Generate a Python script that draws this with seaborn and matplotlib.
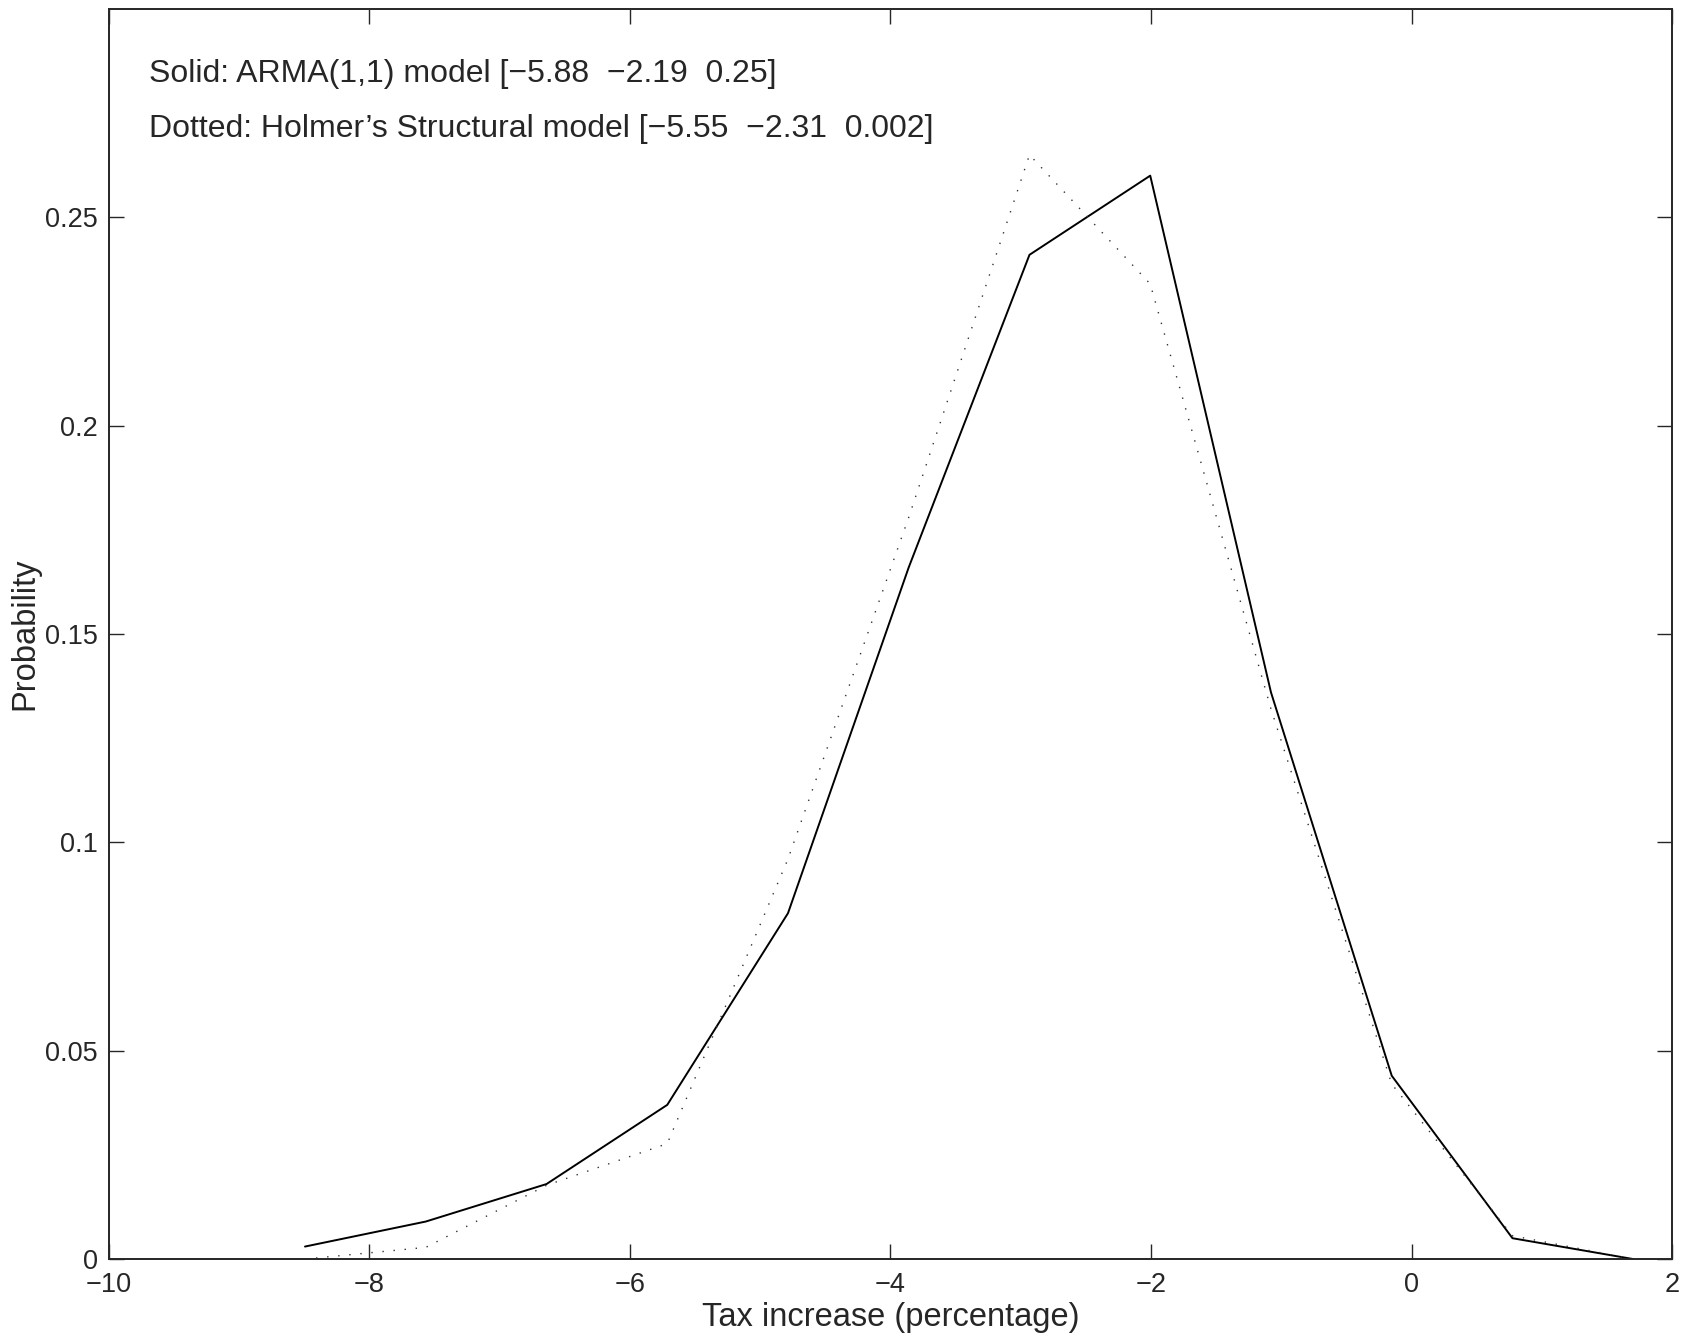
import numpy as np
import pandas as pd
import matplotlib
matplotlib.use("Agg")
import matplotlib.pyplot as plt
import seaborn as sns

# Valores
tax_increase = [-8.495, -7.568, -6.641, -5.714, -4.787, -3.860,
                -2.933, -2.006, -1.079, -0.152, 0.775, 1.702]
prob_arma = [0.003, 0.009, 0.018, 0.037, 0.083, 0.166,
             0.241, 0.260, 0.136, 0.044, 0.005, 0.0]
prob_holmer = [0.0, 0.0028, 0.0177, 0.0277, 0.096, 0.178,
               0.265, 0.234, 0.132, 0.042, 0.0056, 0.0]

label_arma = "Solid: ARMA(1,1) model [\u22125.88  \u22122.19  0.25]"
label_holmer = "Dotted: Holmer\u2019s Structural model [\u22125.55  \u22122.31  0.002]"


def main():
    df = pd.DataFrame({"x": tax_increase, "arma": prob_arma, "holmer": prob_holmer})

    sns.set_style("ticks")
    plt.rcParams["font.family"] = ["Liberation Sans", "DejaVu Sans"]
    plt.rcParams["axes.unicode_minus"] = True

    fig = plt.figure(figsize=(16.92, 13.38), dpi=100)
    ax = fig.add_axes([0.0644, 0.059, 0.9238, 0.9343])

    sns.lineplot(data=df, x="x", y="arma", ax=ax, color="black", linewidth=1.4)
    sns.lineplot(data=df, x="x", y="holmer", ax=ax, color="#333333",
                 linewidth=1.0, linestyle=(0, (1, 7)))

    ax.set_xlim(-10, 2)
    ax.set_ylim(0, 0.3)
    ax.set_xticks([-10, -8, -6, -4, -2, 0, 2])
    ax.set_yticks([0, 0.05, 0.1, 0.15, 0.2, 0.25])
    ax.set_yticklabels(["0", "0.05", "0.1", "0.15", "0.2", "0.25"])
    ax.set_xticklabels(["\u221210", "\u22128", "\u22126", "\u22124", "\u22122", "0", "2"])

    ax.tick_params(direction="in", length=11, width=1.0, labelsize=19.5,
                   top=True, right=True, pad=8)
    ax.tick_params(axis="x", pad=9)
    for s in ax.spines.values():
        s.set_linewidth(1.4)
        s.set_visible(True)

    ax.set_xlabel("Tax increase (percentage)", fontsize=23.5, labelpad=3)
    ax.set_ylabel("Probability", fontsize=23.5, labelpad=3)

    ax.text(-9.69, 0.2843, label_arma, fontsize=23, va="center", ha="left")
    ax.text(-9.69, 0.2713, label_holmer, fontsize=23, va="center", ha="left")

    fig.savefig("out.png", dpi=100)


if __name__ == "__main__":
    main()
